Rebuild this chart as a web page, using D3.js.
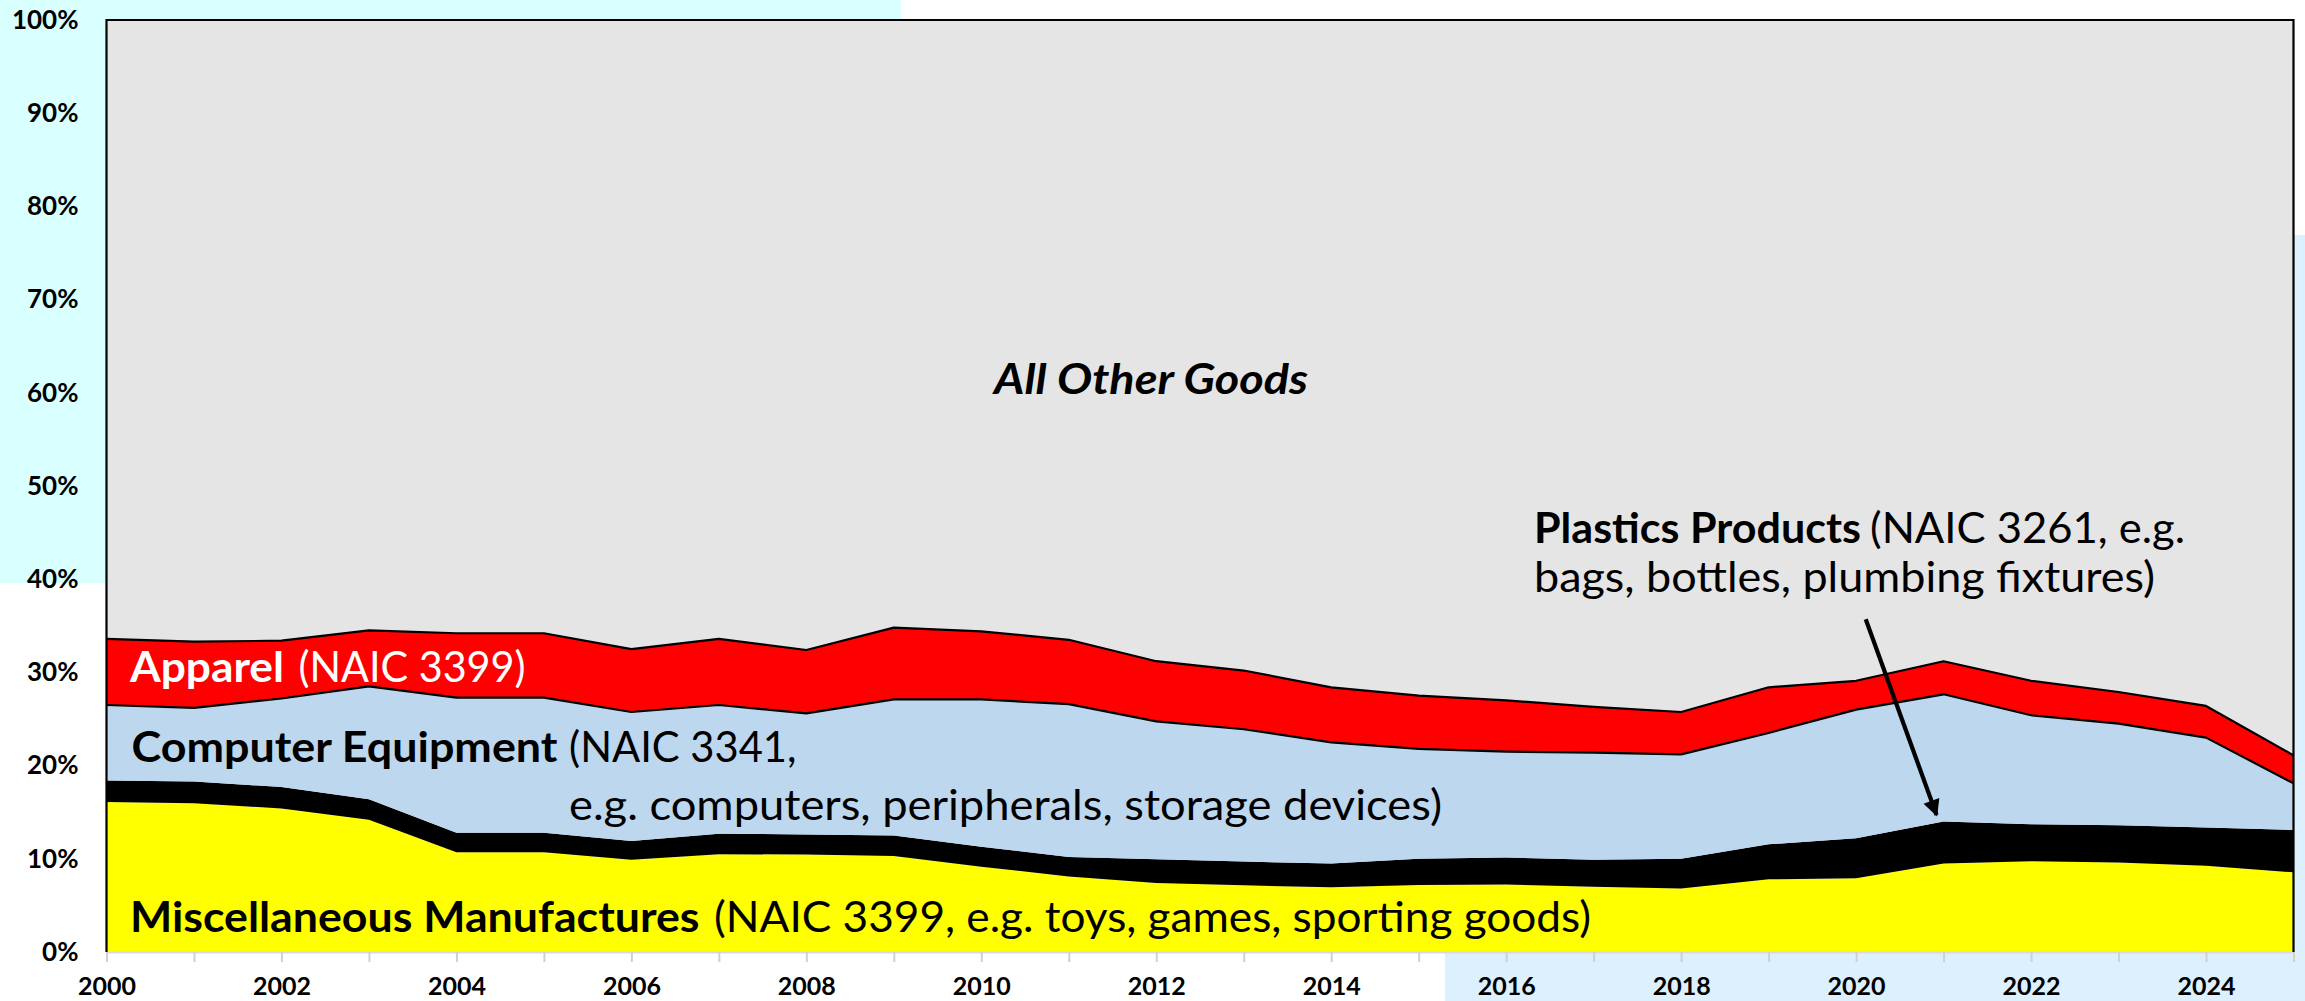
<!DOCTYPE html>
<html>
<head>
<meta charset="utf-8">
<script src="https://cdn.jsdelivr.net/npm/d3@7"></script>
<style>
  html, body { margin: 0; padding: 0; background: #ffffff; }
  #chart { width: 2305px; height: 1001px; }
</style>
</head>
<body>
<div id="chart"></div>
<script>
// 年份
const years = [2000, 2001, 2002, 2003, 2004, 2005, 2006, 2007, 2008, 2009, 2010, 2011, 2012,
               2013, 2014, 2015, 2016, 2017, 2018, 2019, 2020, 2021, 2022, 2023, 2024, 2025];

// 各类商品所占份额 (%)，自下而上堆叠
const misc      = [16.1, 15.95, 15.4, 14.2, 10.7, 10.7, 9.9, 10.5, 10.45, 10.3, 9.15, 8.1, 7.4,
                   7.15, 6.95, 7.2, 7.25, 7.0, 6.8, 7.8, 7.9, 9.5, 9.75, 9.6, 9.25, 8.55];
const plastics  = [2.3, 2.35, 2.3, 2.2, 2.1, 2.1, 2.0, 2.2, 2.15, 2.2, 2.15, 2.1, 2.55,
                   2.55, 2.55, 2.8, 2.9, 2.9, 3.2, 3.75, 4.3, 4.5, 3.95, 4.0, 4.1, 4.55];
const computer  = [8.1, 7.9, 9.5, 12.1, 14.5, 14.5, 13.85, 13.8, 13.0, 14.6, 15.8, 16.4, 14.8,
                   14.2, 13.0, 11.8, 11.35, 11.5, 11.2, 11.95, 13.8, 13.65, 11.7, 10.9, 9.65, 5.0];
const apparel   = [7.1, 7.1, 6.2, 6.0, 6.9, 6.9, 6.75, 7.1, 6.8, 7.7, 7.3, 6.9, 6.45,
                   6.3, 5.9, 5.7, 5.5, 4.9, 4.55, 4.9, 3.1, 3.55, 3.7, 3.4, 3.4, 3.0];
const otherGoods = [66.4, 66.7, 66.6, 65.5, 65.8, 65.8, 67.5, 66.4, 67.6, 65.2, 65.6, 66.5, 68.8,
                    69.8, 71.6, 72.5, 73.0, 73.7, 74.25, 71.6, 70.9, 68.8, 70.9, 72.1, 73.6, 78.9];

// 系列名称与颜色
const seriesKeys = ["misc", "plastics", "computer", "apparel", "other"];
const seriesColors = ["#ffff00", "#000000", "#bdd7ee", "#ff0000", "#e5e5e5"];

// 坐标轴刻度
const yTicks = [0, 10, 20, 30, 40, 50, 60, 70, 80, 90, 100];
const xLabelYears = [2000, 2002, 2004, 2006, 2008, 2010, 2012, 2014, 2016, 2018, 2020, 2022, 2024];

// 箭头注释（数据坐标：年份, %）
const arrowFrom = [2020.11, 35.7];
const arrowTo = [2020.92, 14.7];

const Chart = {
    svg: null,
    width: 2305,
    height: 1001,
    plot: { left: 106.5, top: 20, right: 2293.5, bottom: 952 },

    init() {
        d3.select("#chart").selectAll("*").remove();
        this.svg = d3.select("#chart")
            .append("svg")
            .attr("width", this.width)
            .attr("height", this.height);
        this.render();
    },

    render() {
        const svg = this.svg;
        const p = this.plot;
        const font = "Lato, 'Open Sans', sans-serif";

        // 背景色块（截图中的底色）
        svg.append("rect").attr("x", 0).attr("y", 0).attr("width", this.width).attr("height", this.height)
            .attr("fill", "#ffffff");
        svg.append("rect").attr("x", 0).attr("y", 0).attr("width", 901).attr("height", 583)
            .attr("fill", "#d9ffff");
        svg.append("rect").attr("x", 1445).attr("y", 235).attr("width", this.width - 1445).attr("height", this.height - 235)
            .attr("fill", "#dcf0fd");

        const x = d3.scaleLinear().domain([2000, 2025]).range([p.left, p.right]);
        const y = d3.scaleLinear().domain([0, 100]).range([p.bottom, p.top]);

        // 堆叠数据
        const table = years.map((yr, i) => ({
            year: yr,
            misc: misc[i],
            plastics: plastics[i],
            computer: computer[i],
            apparel: apparel[i],
            other: otherGoods[i]
        }));
        const stacked = d3.stack().keys(seriesKeys)(table);

        const area = d3.area()
            .x(d => x(d.data.year))
            .y0(d => y(d[0]))
            .y1(d => y(d[1]));

        // 绘图区底色
        svg.append("rect")
            .attr("x", p.left).attr("y", p.top)
            .attr("width", p.right - p.left).attr("height", p.bottom - p.top)
            .attr("fill", "#e5e5e5");

        svg.append("g").selectAll("path")
            .data(stacked)
            .enter()
            .append("path")
            .attr("d", area)
            .attr("fill", (d, i) => seriesColors[i]);

        // 电脑设备和服装顶部的黑色边线
        const line = d3.line()
            .x(d => x(d.data.year))
            .y(d => y(d[1]));
        svg.append("g").selectAll("path")
            .data([stacked[2], stacked[3]])
            .enter()
            .append("path")
            .attr("d", line)
            .attr("fill", "none")
            .attr("stroke", "#000")
            .attr("stroke-width", 2.2)
            .attr("stroke-linejoin", "round");

        // x轴
        const xAxis = d3.axisBottom(x)
            .tickValues(years)
            .tickSize(10)
            .tickPadding(15)
            .tickFormat(d => xLabelYears.includes(d) ? d : "");
        const gx = svg.append("g")
            .attr("transform", `translate(0, ${p.bottom})`)
            .call(xAxis);
        gx.select(".domain").attr("stroke", "#d9d9d9").attr("stroke-width", 2);
        gx.selectAll(".tick line").attr("stroke", "#d0d0d0").attr("stroke-width", 2);
        gx.selectAll(".tick text")
            .attr("font-family", font)
            .attr("font-weight", "bold")
            .attr("font-size", "25px")
            .attr("fill", "#000");

        // y轴
        const yAxis = d3.axisLeft(y)
            .tickValues(yTicks)
            .tickSize(0)
            .tickPadding(28)
            .tickFormat(d => d + "%");
        const gy = svg.append("g")
            .attr("transform", `translate(${p.left}, 0)`)
            .call(yAxis);
        gy.select(".domain").remove();
        gy.selectAll(".tick text")
            .attr("font-family", font)
            .attr("font-weight", "bold")
            .attr("font-size", "26px")
            .attr("fill", "#000");

        // 绘图区边框（左、上、右）
        svg.append("path")
            .attr("d", `M${p.left},${p.bottom} V${p.top} H${p.right} V${p.bottom}`)
            .attr("fill", "none")
            .attr("stroke", "#000")
            .attr("stroke-width", 2.2);

        // 标签文字
        const labels = [
            { t: "All Other Goods", x: 994, y: 394, w: 314, bold: true, italic: true, fill: "#000" },
            { t: "Apparel", x: 130, y: 682, w: 154, bold: true, fill: "#fff" },
            { t: "(NAIC 3399)", x: 298.5, y: 682, w: 227, fill: "#fff" },
            { t: "Computer Equipment", x: 131.5, y: 762, w: 426, bold: true, fill: "#000" },
            { t: "(NAIC 3341,", x: 569, y: 762, w: 227.5, fill: "#000" },
            { t: "e.g. computers, peripherals, storage devices)", x: 569, y: 820, w: 873, fill: "#000" },
            { t: "Miscellaneous Manufactures", x: 130, y: 932, w: 569.5, bold: true, fill: "#000" },
            { t: "(NAIC 3399, e.g. toys, games, sporting goods)", x: 714, y: 932, w: 877, fill: "#000" },
            { t: "Plastics Products", x: 1534, y: 543, w: 327, bold: true, fill: "#000" },
            { t: "(NAIC 3261, e.g.", x: 1870, y: 543, w: 315, fill: "#000" },
            { t: "bags, bottles, plumbing fixtures)", x: 1534, y: 592, w: 621, fill: "#000" }
        ];
        svg.append("g").selectAll("text")
            .data(labels)
            .enter()
            .append("text")
            .attr("x", d => d.x)
            .attr("y", d => d.y)
            .attr("font-family", font)
            .attr("font-size", "42px")
            .attr("font-weight", d => d.bold ? "bold" : "normal")
            .attr("font-style", d => d.italic ? "italic" : "normal")
            .attr("fill", d => d.fill)
            .attr("textLength", d => d.w)
            .attr("lengthAdjust", "spacingAndGlyphs")
            .text(d => d.t);

        // 箭头
        svg.append("defs").append("marker")
            .attr("id", "arrowhead")
            .attr("viewBox", "0 0 10 10")
            .attr("refX", 9)
            .attr("refY", 5)
            .attr("markerWidth", 4.4)
            .attr("markerHeight", 4)
            .attr("markerUnits", "strokeWidth")
            .attr("orient", "auto")
            .append("path")
            .attr("d", "M0,0 L10,5 L0,10 Z")
            .attr("fill", "#000");

        svg.append("line")
            .attr("x1", x(arrowFrom[0]))
            .attr("y1", y(arrowFrom[1]))
            .attr("x2", x(arrowTo[0]))
            .attr("y2", y(arrowTo[1]))
            .attr("stroke", "#000")
            .attr("stroke-width", 4.2)
            .attr("marker-end", "url(#arrowhead)");
    }
};

Chart.init();
</script>
</body>
</html>
